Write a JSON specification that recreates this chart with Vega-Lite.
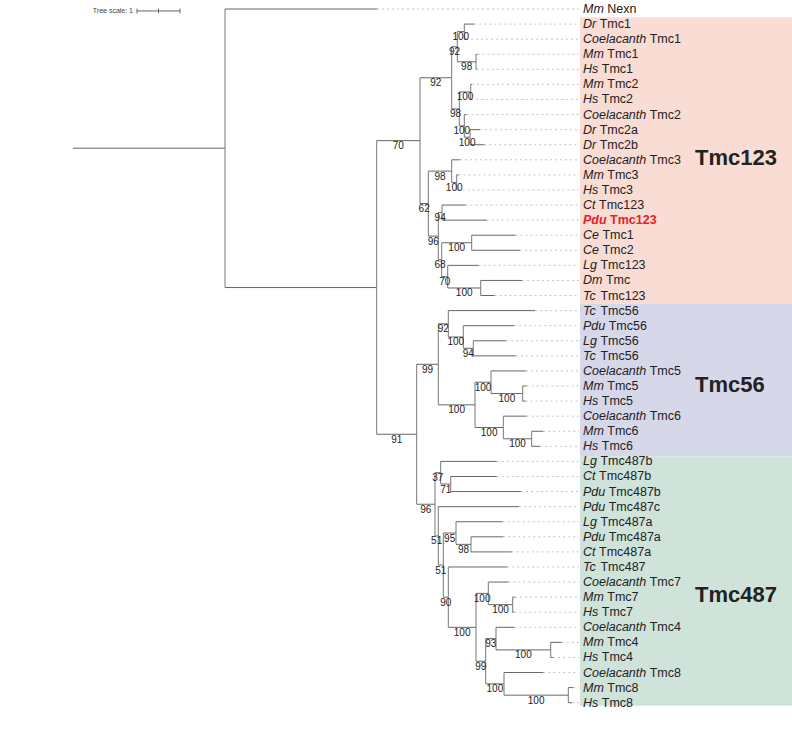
{
 "$schema": "https://vega.github.io/schema/vega-lite/v6.json",
 "width": 792,
 "height": 746,
 "autosize": {"type": "fit", "contains": "padding"},
 "padding": 0,
 "background": "white",
 "config": {"view": {"stroke": null}, "font": "Liberation Sans"},
 "datasets": {
  "tree": [
   {"id": "R0", "x": 73, "row": 9.23},
   {"id": "R", "parent": "R0", "x": 225, "row": 9.23},
   {"id": "Mm Nexn", "parent": "R", "x": 377, "row": 0, "sp": "Mm", "gene": "Nexn"},
   {"id": "A", "parent": "R", "x": 376.7, "row": 18.47},
   {"id": "T123", "parent": "A", "x": 420, "row": 8.73, "sup": 70},
   {"id": "C1", "parent": "T123", "x": 451.7, "row": 4.56, "sup": 92},
   {"id": "C1a", "parent": "C1", "x": 457.3, "row": 2.5, "sup": 92},
   {"id": "D1", "parent": "C1a", "x": 464.3, "row": 1.5, "sup": 100},
   {"id": "Dr Tmc1", "parent": "D1", "x": 474.3, "row": 1, "sp": "Dr", "gene": "Tmc1"},
   {"id": "Coelacanth Tmc1", "parent": "D1", "x": 466, "row": 2, "sp": "Coelacanth", "gene": "Tmc1"},
   {"id": "D2", "parent": "C1a", "x": 476, "row": 3.5, "sup": 98},
   {"id": "Mm Tmc1", "parent": "D2", "x": 477.5, "row": 3, "sp": "Mm", "gene": "Tmc1"},
   {"id": "Hs Tmc1", "parent": "D2", "x": 476.8, "row": 4, "sp": "Hs", "gene": "Tmc1"},
   {"id": "C1b", "parent": "C1", "x": 459.3, "row": 6.625, "sup": 98},
   {"id": "D3", "parent": "C1b", "x": 470.7, "row": 5.5, "sup": 100},
   {"id": "Mm Tmc2", "parent": "D3", "x": 472, "row": 5, "sp": "Mm", "gene": "Tmc2"},
   {"id": "Hs Tmc2", "parent": "D3", "x": 471.2, "row": 6, "sp": "Hs", "gene": "Tmc2"},
   {"id": "D4", "parent": "C1b", "x": 464.3, "row": 7.75, "sup": 100},
   {"id": "Coelacanth Tmc2", "parent": "D4", "x": 466.5, "row": 7, "sp": "Coelacanth", "gene": "Tmc2"},
   {"id": "D5", "parent": "D4", "x": 470, "row": 8.5, "sup": 100},
   {"id": "Dr Tmc2a", "parent": "D5", "x": 480, "row": 8, "sp": "Dr", "gene": "Tmc2a"},
   {"id": "Dr Tmc2b", "parent": "D5", "x": 484.3, "row": 9, "sp": "Dr", "gene": "Tmc2b"},
   {"id": "C2", "parent": "T123", "x": 428.3, "row": 12.9, "sup": 62},
   {"id": "E1", "parent": "C2", "x": 451.7, "row": 10.75, "sup": 98},
   {"id": "Coelacanth Tmc3", "parent": "E1", "x": 460, "row": 10, "sp": "Coelacanth", "gene": "Tmc3"},
   {"id": "E1a", "parent": "E1", "x": 456.7, "row": 11.5, "sup": 100},
   {"id": "Mm Tmc3", "parent": "E1a", "x": 458.5, "row": 11, "sp": "Mm", "gene": "Tmc3"},
   {"id": "Hs Tmc3", "parent": "E1a", "x": 457.5, "row": 12, "sp": "Hs", "gene": "Tmc3"},
   {"id": "E2", "parent": "C2", "x": 438.3, "row": 15.06, "sup": 96},
   {"id": "E3", "parent": "E2", "x": 442, "row": 13.5, "sup": 94},
   {"id": "Ct Tmc123", "parent": "E3", "x": 465.5, "row": 13, "sp": "Ct", "gene": "Tmc123"},
   {"id": "Pdu Tmc123", "parent": "E3", "x": 486.7, "row": 14, "sp": "Pdu", "gene": "Tmc123", "hl": true},
   {"id": "E4", "parent": "E2", "x": 441.7, "row": 16.625, "sup": 68},
   {"id": "E5", "parent": "E4", "x": 471.7, "row": 15.5, "sup": 100},
   {"id": "Ce Tmc1", "parent": "E5", "x": 515.5, "row": 15, "sp": "Ce", "gene": "Tmc1"},
   {"id": "Ce Tmc2", "parent": "E5", "x": 520, "row": 16, "sp": "Ce", "gene": "Tmc2"},
   {"id": "E6", "parent": "E4", "x": 447.7, "row": 17.75, "sup": 70},
   {"id": "Lg Tmc123", "parent": "E6", "x": 478.7, "row": 17, "sp": "Lg", "gene": "Tmc123"},
   {"id": "E7", "parent": "E6", "x": 480.7, "row": 18.5, "sup": 100},
   {"id": "Dm Tmc", "parent": "E7", "x": 522, "row": 18, "sp": "Dm", "gene": "Tmc"},
   {"id": "Tc Tmc123", "parent": "E7", "x": 494.5, "row": 19, "sp": "Tc", "gene": "Tmc123"},
   {"id": "B", "parent": "A", "x": 416.7, "row": 28.2, "sup": 91},
   {"id": "F", "parent": "B", "x": 438.3, "row": 23.56, "sup": 99},
   {"id": "F1", "parent": "F", "x": 448.3, "row": 20.875, "sup": 92},
   {"id": "Tc Tmc56 (1)", "parent": "F1", "x": 535, "row": 20, "sp": "Tc", "gene": "Tmc56"},
   {"id": "F1a", "parent": "F1", "x": 463.3, "row": 21.75, "sup": 100},
   {"id": "Pdu Tmc56", "parent": "F1a", "x": 514.3, "row": 21, "sp": "Pdu", "gene": "Tmc56"},
   {"id": "F1b", "parent": "F1a", "x": 473.3, "row": 22.5, "sup": 94},
   {"id": "Lg Tmc56", "parent": "F1b", "x": 506, "row": 22, "sp": "Lg", "gene": "Tmc56"},
   {"id": "Tc Tmc56 (2)", "parent": "F1b", "x": 516, "row": 23, "sp": "Tc", "gene": "Tmc56"},
   {"id": "F2", "parent": "F", "x": 475, "row": 26.25, "sup": 100},
   {"id": "F3", "parent": "F2", "x": 491, "row": 24.75, "sup": 100},
   {"id": "Coelacanth Tmc5", "parent": "F3", "x": 526, "row": 24, "sp": "Coelacanth", "gene": "Tmc5"},
   {"id": "F3a", "parent": "F3", "x": 522.7, "row": 25.5, "sup": 100},
   {"id": "Mm Tmc5", "parent": "F3a", "x": 526.5, "row": 25, "sp": "Mm", "gene": "Tmc5"},
   {"id": "Hs Tmc5", "parent": "F3a", "x": 525.5, "row": 26, "sp": "Hs", "gene": "Tmc5"},
   {"id": "F4", "parent": "F2", "x": 503.3, "row": 27.75, "sup": 100},
   {"id": "Coelacanth Tmc6", "parent": "F4", "x": 526.7, "row": 27, "sp": "Coelacanth", "gene": "Tmc6"},
   {"id": "F4a", "parent": "F4", "x": 531.7, "row": 28.5, "sup": 100},
   {"id": "Mm Tmc6", "parent": "F4a", "x": 543.3, "row": 28, "sp": "Mm", "gene": "Tmc6"},
   {"id": "Hs Tmc6", "parent": "F4a", "x": 540, "row": 29, "sp": "Hs", "gene": "Tmc6"},
   {"id": "G", "parent": "B", "x": 435, "row": 32.84, "sup": 96},
   {"id": "G1", "parent": "G", "x": 440.7, "row": 30.75, "sup": 37},
   {"id": "Lg Tmc487b", "parent": "G1", "x": 496.7, "row": 30, "sp": "Lg", "gene": "Tmc487b"},
   {"id": "G1a", "parent": "G1", "x": 450.7, "row": 31.5, "sup": 71},
   {"id": "Ct Tmc487b", "parent": "G1a", "x": 496.7, "row": 31, "sp": "Ct", "gene": "Tmc487b"},
   {"id": "Pdu Tmc487b", "parent": "G1a", "x": 521, "row": 32, "sp": "Pdu", "gene": "Tmc487b"},
   {"id": "G2", "parent": "G", "x": 438.3, "row": 34.94, "sup": 51},
   {"id": "Pdu Tmc487c", "parent": "G2", "x": 519, "row": 33, "sp": "Pdu", "gene": "Tmc487c"},
   {"id": "G2b", "parent": "G2", "x": 443.3, "row": 36.875, "sup": 51},
   {"id": "G3", "parent": "G2b", "x": 456, "row": 34.75, "sup": 95},
   {"id": "Lg Tmc487a", "parent": "G3", "x": 502.7, "row": 34, "sp": "Lg", "gene": "Tmc487a"},
   {"id": "G3a", "parent": "G3", "x": 471, "row": 35.5, "sup": 98},
   {"id": "Pdu Tmc487a", "parent": "G3a", "x": 503.3, "row": 35, "sp": "Pdu", "gene": "Tmc487a"},
   {"id": "Ct Tmc487a", "parent": "G3a", "x": 511.7, "row": 36, "sp": "Ct", "gene": "Tmc487a"},
   {"id": "G4", "parent": "G2b", "x": 448.3, "row": 39, "sup": 90},
   {"id": "Tc Tmc487", "parent": "G4", "x": 507.3, "row": 37, "sp": "Tc", "gene": "Tmc487"},
   {"id": "H", "parent": "G4", "x": 476, "row": 41, "sup": 100},
   {"id": "H1", "parent": "H", "x": 488.3, "row": 38.75, "sup": 100},
   {"id": "Coelacanth Tmc7", "parent": "H1", "x": 508.3, "row": 38, "sp": "Coelacanth", "gene": "Tmc7"},
   {"id": "H1a", "parent": "H1", "x": 512.7, "row": 39.5, "sup": 100},
   {"id": "Mm Tmc7", "parent": "H1a", "x": 515, "row": 39, "sp": "Mm", "gene": "Tmc7"},
   {"id": "Hs Tmc7", "parent": "H1a", "x": 514.3, "row": 40, "sp": "Hs", "gene": "Tmc7"},
   {"id": "H2", "parent": "H", "x": 485.7, "row": 43.25, "sup": 99},
   {"id": "H3", "parent": "H2", "x": 496, "row": 41.75, "sup": 93},
   {"id": "Coelacanth Tmc4", "parent": "H3", "x": 514.3, "row": 41, "sp": "Coelacanth", "gene": "Tmc4"},
   {"id": "H3a", "parent": "H3", "x": 550.7, "row": 42.5, "sup": 100},
   {"id": "Mm Tmc4", "parent": "H3a", "x": 561.7, "row": 42, "sp": "Mm", "gene": "Tmc4"},
   {"id": "Hs Tmc4", "parent": "H3a", "x": 553, "row": 43, "sp": "Hs", "gene": "Tmc4"},
   {"id": "H4", "parent": "H2", "x": 504, "row": 44.75, "sup": 100},
   {"id": "Coelacanth Tmc8", "parent": "H4", "x": 543.3, "row": 44, "sp": "Coelacanth", "gene": "Tmc8"},
   {"id": "H4a", "parent": "H4", "x": 568.3, "row": 45.5, "sup": 100},
   {"id": "Mm Tmc8", "parent": "H4a", "x": 573.3, "row": 45, "sp": "Mm", "gene": "Tmc8"},
   {"id": "Hs Tmc8", "parent": "H4a", "x": 572, "row": 46, "sp": "Hs", "gene": "Tmc8"}
  ],
  "clades": [
   {"clade": "Tmc123", "r0": 0.55, "r1": 19.55, "lrow": 9.9},
   {"clade": "Tmc56", "r0": 19.55, "r1": 29.65, "lrow": 24.95},
   {"clade": "Tmc487", "r0": 29.65, "r1": 46.2, "lrow": 38.85}
  ],
  "scalebar": [{"label": "Tree scale: 1", "x": 137, "x2": 180, "row": 0.13}],
  "scaleticks": [{"t": 137}, {"t": 158.5}, {"t": 180}]
 },
 "layer": [
  {
   "data": {"name": "clades"},
   "mark": {"type": "rect"},
   "encoding": {
    "x": {"datum": 580, "type": "quantitative", "scale": {"domain": [0, 792], "range": [0, 792], "nice": false, "zero": false}, "axis": null},
    "x2": {"datum": 792},
    "y": {"field": "r0", "type": "quantitative", "scale": {"domain": [0, 46], "range": [9, 702.7], "nice": false, "zero": false}, "axis": null},
    "y2": {"field": "r1"},
    "color": {"field": "clade", "type": "nominal", "scale": {"domain": ["Tmc123", "Tmc56", "Tmc487"], "range": ["#f9dcd3", "#d7d7ea", "#cfe3da"]}, "legend": null}
   }
  },
  {
   "data": {"name": "tree"},
   "transform": [{"filter": "isValid(datum.sp)"}],
   "mark": {"type": "rule", "strokeDash": [2, 3], "color": "#c4c4c4", "strokeWidth": 1},
   "encoding": {
    "x": {"field": "x", "type": "quantitative"},
    "x2": {"datum": 579},
    "y": {"field": "row", "type": "quantitative"}
   }
  },
  {
   "data": {"name": "tree"},
   "transform": [
    {"filter": "isValid(datum.parent)"},
    {"lookup": "parent", "from": {"data": {"name": "tree"}, "key": "id", "fields": ["x"]}, "as": ["px"]}
   ],
   "mark": {"type": "rule", "color": "#666", "strokeWidth": 1},
   "encoding": {
    "x": {"field": "px", "type": "quantitative"},
    "x2": {"field": "x"},
    "y": {"field": "row", "type": "quantitative"}
   }
  },
  {
   "data": {"name": "tree"},
   "transform": [
    {"filter": "isValid(datum.parent)"},
    {"aggregate": [{"op": "min", "field": "row", "as": "r0"}, {"op": "max", "field": "row", "as": "r1"}], "groupby": ["parent"]},
    {"lookup": "parent", "from": {"data": {"name": "tree"}, "key": "id", "fields": ["x"]}, "as": ["px"]}
   ],
   "mark": {"type": "rule", "color": "#777", "strokeWidth": 1},
   "encoding": {
    "x": {"field": "px", "type": "quantitative"},
    "y": {"field": "r0", "type": "quantitative"},
    "y2": {"field": "r1"}
   }
  },
  {
   "data": {"name": "tree"},
   "transform": [
    {"filter": "isValid(datum.sup)"},
    {"lookup": "parent", "from": {"data": {"name": "tree"}, "key": "id", "fields": ["x"]}, "as": ["px"]},
    {"calculate": "(datum.px + datum.x) / 2", "as": "mx"}
   ],
   "mark": {"type": "text", "fontSize": 10, "color": "#222", "align": "center", "baseline": "middle", "dy": 5.5},
   "encoding": {
    "x": {"field": "mx", "type": "quantitative"},
    "y": {"field": "row", "type": "quantitative"},
    "text": {"field": "sup", "type": "nominal"}
   }
  },
  {
   "data": {"name": "tree"},
   "transform": [{"filter": "isValid(datum.sp) && !datum.hl"}],
   "mark": {"type": "text", "fontSize": 12.5, "fontStyle": "italic", "color": "#222", "align": "left", "baseline": "middle"},
   "encoding": {
    "x": {"datum": 583},
    "y": {"field": "row", "type": "quantitative"},
    "text": {"field": "sp", "type": "nominal"}
   }
  },
  {
   "data": {"name": "tree"},
   "transform": [
    {"filter": "isValid(datum.sp) && !datum.hl"},
    {"calculate": "583 + ({'Mm': 24.3, 'Hs': 18.75, 'Dr': 16.7, 'Coelacanth': 66.7, 'Ct': 16, 'Pdu': 25.7, 'Ce': 19.45, 'Lg': 17.4, 'Dm': 22.9, 'Tc': 17.4})[datum.sp]", "as": "gx"}
   ],
   "mark": {"type": "text", "fontSize": 12.5, "color": "#222", "align": "left", "baseline": "middle"},
   "encoding": {
    "x": {"field": "gx", "type": "quantitative"},
    "y": {"field": "row", "type": "quantitative"},
    "text": {"field": "gene", "type": "nominal"}
   }
  },
  {
   "data": {"name": "tree"},
   "transform": [{"filter": "datum.hl === true"}],
   "mark": {"type": "text", "fontSize": 12.5, "fontStyle": "italic", "fontWeight": "bold", "color": "#e8202a", "align": "left", "baseline": "middle"},
   "encoding": {
    "x": {"datum": 583},
    "y": {"field": "row", "type": "quantitative"},
    "text": {"field": "sp", "type": "nominal"}
   }
  },
  {
   "data": {"name": "tree"},
   "transform": [{"filter": "datum.hl === true"}],
   "mark": {"type": "text", "fontSize": 12.5, "fontWeight": "bold", "color": "#e8202a", "align": "left", "baseline": "middle"},
   "encoding": {
    "x": {"datum": 610.1},
    "y": {"field": "row", "type": "quantitative"},
    "text": {"field": "gene", "type": "nominal"}
   }
  },
  {
   "data": {"name": "clades"},
   "mark": {"type": "text", "fontSize": 22, "fontWeight": "bold", "color": "#222", "align": "left", "baseline": "middle"},
   "encoding": {
    "x": {"datum": 695},
    "y": {"field": "lrow", "type": "quantitative"},
    "text": {"field": "clade", "type": "nominal"}
   }
  },
  {
   "data": {"name": "scalebar"},
   "mark": {"type": "rule", "color": "#666", "strokeWidth": 1},
   "encoding": {
    "x": {"field": "x", "type": "quantitative"},
    "x2": {"field": "x2"},
    "y": {"field": "row", "type": "quantitative"}
   }
  },
  {
   "data": {"name": "scaleticks"},
   "mark": {"type": "rule", "color": "#666", "strokeWidth": 1},
   "encoding": {
    "x": {"field": "t", "type": "quantitative"},
    "y": {"datum": -0.03},
    "y2": {"datum": 0.29}
   }
  },
  {
   "data": {"name": "scalebar"},
   "mark": {"type": "text", "fontSize": 7, "color": "#444", "align": "right", "baseline": "middle"},
   "encoding": {
    "x": {"datum": 133},
    "y": {"field": "row", "type": "quantitative"},
    "text": {"field": "label", "type": "nominal"}
   }
  }
 ]
}
